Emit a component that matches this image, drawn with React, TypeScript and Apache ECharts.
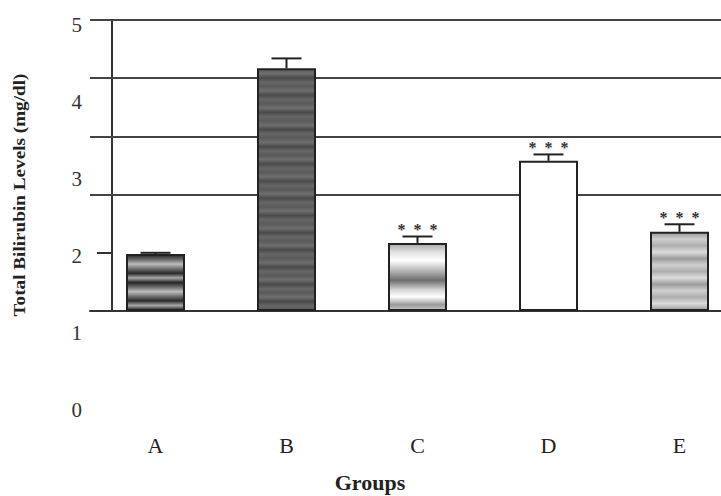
import React, { useEffect, useRef } from "react";
import * as echarts from "echarts";

const categories = ["A", "B", "C", "D", "E"];
const means = [0.98, 4.17, 1.17, 2.58, 1.36];
const errors = [0.02, 0.17, 0.11, 0.11, 0.13];
const stars = ["", "", "*  *  *", "*  *  *", "*  *  *"];
const yTickLabels = ["0", "1", "2", "3", "4", "5"];
const gridValues = [2, 3, 4, 5];

const FONT = "'Liberation Serif', 'DejaVu Serif', serif";

function stripes(colors: string[], repeat: number) {
  const stops: { offset: number; color: string }[] = [];
  const n = colors.length * repeat;
  for (let i = 0; i <= n; i++) {
    stops.push({ offset: i / n, color: colors[i % colors.length] });
  }
  return new echarts.graphic.LinearGradient(0, 0, 0, 1, stops);
}

const fills = [
  stripes(["#262626", "#6a6a6a", "#bdbdbd", "#707070", "#2a2a2a", "#a8a8a8"], 2),
  stripes(["#5a5a5a", "#6e6e6e", "#4a4a4a", "#666666"], 14),
  new echarts.graphic.LinearGradient(0, 0, 0, 1, [
    { offset: 0, color: "#a8a8a8" },
    { offset: 0.12, color: "#e0e0e0" },
    { offset: 0.25, color: "#ffffff" },
    { offset: 0.42, color: "#b0b0b0" },
    { offset: 0.55, color: "#6e6e6e" },
    { offset: 0.7, color: "#d8d8d8" },
    { offset: 0.8, color: "#ffffff" },
    { offset: 0.92, color: "#9a9a9a" },
    { offset: 1, color: "#c8c8c8" },
  ]),
  "#ffffff",
  stripes(["#9c9c9c", "#cfcfcf", "#aeaeae", "#dcdcdc"], 3),
];

export default function App() {
  const ref = useRef<HTMLDivElement>(null);
  useEffect(() => {
    const chart = echarts.init(ref.current!, null, { renderer: "svg" });
    chart.setOption({
      animation: false,
      backgroundColor: "#ffffff",
      grid: [
        { left: 90, top: 20, width: 655, height: 291, outerBoundsMode: "none", containLabel: false },
        { left: 90, top: 25, width: 655, height: 385, outerBoundsMode: "none", containLabel: false },
      ],
      xAxis: [
        {
          type: "category",
          gridIndex: 0,
          data: categories,
          axisLine: { lineStyle: { color: "#333", width: 2 } },
          axisTick: { alignWithLabel: true, length: 4, lineStyle: { color: "#333" } },
          axisLabel: { margin: 123, fontSize: 22, fontFamily: FONT, color: "#222" },
        },
        { type: "category", gridIndex: 1, data: categories, show: false },
      ],
      yAxis: [
        {
          type: "value",
          gridIndex: 0,
          min: 0,
          max: 5,
          interval: 1,
          offset: -22,
          axisLine: { show: true, lineStyle: { color: "#333", width: 2 } },
          axisTick: { show: true, length: 15, lineStyle: { color: "#333", width: 2 } },
          axisLabel: { show: false },
          splitLine: { show: false },
        },
        {
          type: "value",
          gridIndex: 1,
          min: 0,
          max: 5,
          interval: 1,
          axisLine: { show: false },
          axisTick: { show: false },
          splitLine: { show: false },
          axisLabel: {
            margin: 8,
            fontSize: 21,
            fontFamily: FONT,
            color: "#333",
            formatter: (v: number) => yTickLabels[Math.round(v)],
          },
        },
      ],
      graphic: [
        {
          type: "text",
          x: 20,
          y: 195,
          rotation: Math.PI / 2,
          scaleX: 1.2,
          style: {
            text: "Total Bilirubin Levels (mg/dl)",
            font: "bold 16px " + FONT,
            fill: "#222",
            textAlign: "center",
            textVerticalAlign: "middle",
          },
        },
        {
          type: "text",
          x: 370,
          y: 482,
          style: {
            text: "Groups",
            font: "bold 22px " + FONT,
            fill: "#222",
            textAlign: "center",
            textVerticalAlign: "middle",
          },
        },
      ],
      series: [
        {
          type: "bar",
          xAxisIndex: 0,
          yAxisIndex: 0,
          barWidth: 59,
          z: 3,
          data: means.map((v, i) => ({
            value: v,
            itemStyle: { color: fills[i], borderColor: "#222", borderWidth: 2 },
          })),
          markLine: {
            silent: true,
            symbol: "none",
            z: 1,
            label: { show: false },
            lineStyle: { color: "#444", width: 2, type: "solid" },
            data: gridValues.map((g) => ({ yAxis: g })),
          },
        },
        {
          type: "custom",
          xAxisIndex: 0,
          yAxisIndex: 0,
          z: 4,
          data: means.map((v, i) => [i, v, errors[i]]),
          renderItem: (params: any, api: any) => {
            const i = api.value(0);
            const base = api.coord([i, api.value(1)]);
            const top = api.coord([i, api.value(1) + api.value(2)]);
            const st = stars[params.dataIndex];
            const children: any[] = [
              {
                type: "line",
                shape: { x1: base[0], y1: base[1], x2: top[0], y2: top[1] },
                style: { stroke: "#222", lineWidth: 2 },
              },
              {
                type: "line",
                shape: { x1: top[0] - 15, y1: top[1], x2: top[0] + 15, y2: top[1] },
                style: { stroke: "#222", lineWidth: 2 },
              },
            ];
            if (st) {
              children.push({
                type: "text",
                x: top[0],
                y: top[1] + 1,
                style: {
                  text: st,
                  font: "bold 16px " + FONT,
                  fill: "#333",
                  textAlign: "center",
                  textVerticalAlign: "bottom",
                },
              });
            }
            return { type: "group", children };
          },
        },
      ],
    });
    return () => chart.dispose();
  }, []);
  return (
    <div
      ref={ref}
      style={{ position: "absolute", left: 0, top: 0, width: 721, height: 496 }}
    />
  );
}
